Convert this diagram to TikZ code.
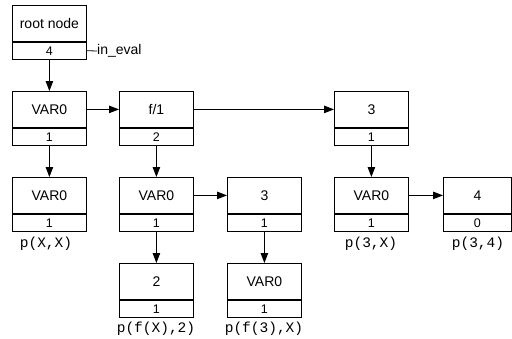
\documentclass[tikz,border=0pt]{standalone}
\usepackage{fontspec}
\setmainfont{Liberation Sans}
\setmonofont{Liberation Mono}
\usetikzlibrary{arrows.meta}
\tikzset{
  topbox/.style={draw, line width=0.8pt, minimum width=74pt, minimum height=36pt, inner sep=0pt, anchor=north west, font=\fontsize{14}{16}\selectfont},
  botbox/.style={draw, line width=0.8pt, minimum width=74pt, minimum height=17pt, inner sep=0pt, anchor=north, font=\fontsize{12.5}{14}\selectfont},
  lab/.style={font=\fontsize{14.5}{16}\ttfamily, inner sep=0pt},
  arr/.style={line width=0.8pt, -{Triangle[length=10pt,width=7.5pt]}},
  ln/.style={line width=0.8pt}
}
\begin{document}
\begin{tikzpicture}[x=1pt,y=-1pt]
\useasboundingbox (0,0) rectangle (512,338);
% root
\node[topbox] (root) at (12,5) {root node};
\node[botbox] (rootb) at (root.south) {4};
\node[anchor=west, inner sep=0pt, font=\fontsize{14}{16}\selectfont] (ineval) at (97,51) {in\_eval};
% row 1
\node[topbox] (a1) at (12,91) {VAR0};
\node[botbox] (a1b) at (a1.south) {1};
\node[topbox] (a2) at (119,91) {f/1};
\node[botbox] (a2b) at (a2.south) {2};
\node[topbox] (a3) at (334,91) {3};
\node[botbox] (a3b) at (a3.south) {1};
% row 2
\node[topbox] (b1) at (12,177) {VAR0};
\node[botbox] (b1b) at (b1.south) {1};
\node[topbox] (b2) at (119,177) {VAR0};
\node[botbox] (b2b) at (b2.south) {1};
\node[topbox] (b3) at (227,177) {3};
\node[botbox] (b3b) at (b3.south) {1};
\node[topbox] (b4) at (334,177) {VAR0};
\node[botbox] (b4b) at (b4.south) {1};
\node[topbox, minimum width=68pt] (b5) at (443,177) {4};
\node[botbox, minimum width=68pt] (b5b) at (b5.south) {0};
% row 3
\node[topbox] (c1) at (119,263) {2};
\node[botbox] (c1b) at (c1.south) {1};
\node[topbox] (c2) at (227,263) {VAR0};
\node[botbox] (c2b) at (c2.south) {1};
% labels
\node[lab] (l1) at (46,244) {p(X,X)};
\node[lab] (l2) at (371,244) {p(3,X)};
\node[lab] (l3) at (478,244) {p(3,4)};
\node[lab] (l4) at (156,329) {p(f(X),2)};
\node[lab] (l5) at (264,329) {p(f(3),X)};
% connectors
\draw[ln] (rootb.east) -- (ineval.west);
\draw[arr] (rootb.south) -- (a1.north);
\draw[arr] (a1.east) -- (a2.west);
\draw[arr] (a2.east) -- (a3.west);
\draw[arr] (a1b.south) -- (b1.north);
\draw[arr] (a2b.south) -- (b2.north);
\draw[arr] (a3b.south) -- (b4.north);
\draw[arr] (b2.east) -- (b3.west);
\draw[arr] (b4.east) -- (b5.west);
\draw[arr] (b2b.south) -- (c1.north);
\draw[arr] (b3b.south) -- (c2.north);
\end{tikzpicture}
\end{document}
